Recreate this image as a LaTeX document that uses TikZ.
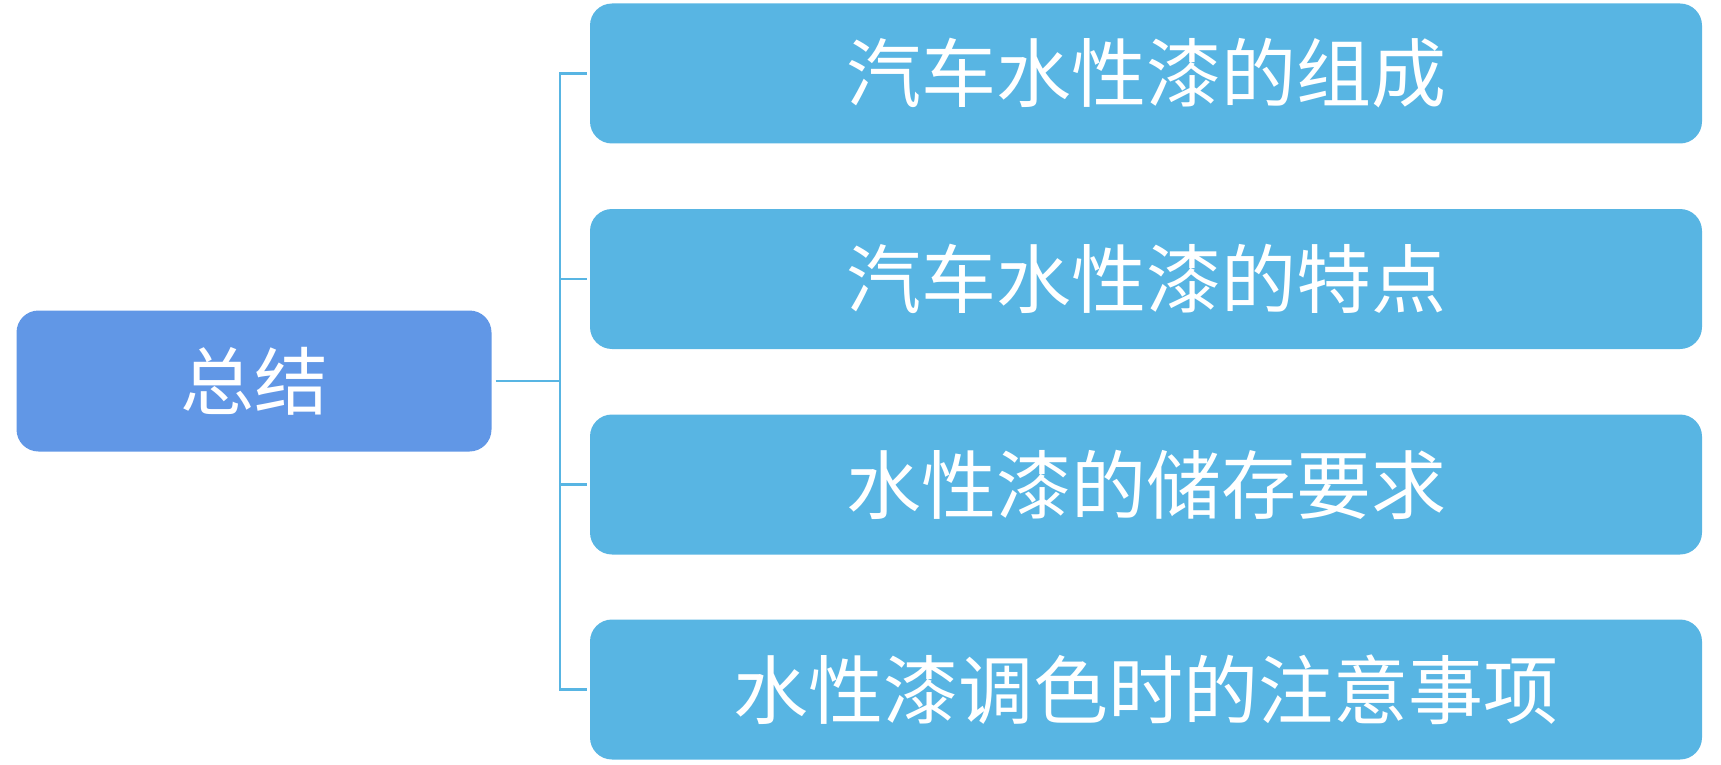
\documentclass[tikz,border=0pt]{standalone}
\usepackage{fontspec}
\usepackage{tikz}
\usetikzlibrary{positioning,calc}
\newfontfamily\cjk{Noto Sans CJK SC}
\definecolor{sumblue}{RGB}{97,151,230}
\definecolor{itemblue}{RGB}{88,181,227}

\begin{document}
\begin{tikzpicture}[x=1pt, y=-1pt,
        sumbox/.style={rectangle, rounded corners=22pt, fill=sumblue,
                    minimum width=475pt, minimum height=141pt,
                    align=center, text=white, inner sep=0pt,
                    font=\cjk\fontsize{74}{88}\selectfont},
        itembox/.style={rectangle, rounded corners=22pt, fill=itemblue,
                    minimum width=1112pt, minimum height=140pt,
                    align=center, text=white, inner sep=0pt,
                    font=\cjk\fontsize{75}{90}\selectfont},
        link/.style={draw=itemblue, line width=2.5pt}]

        \useasboundingbox (0,0) rectangle (1721,765);

        % summary node
        \node[sumbox] (sum) at (254, 381) {总结};

        % item nodes
        \node[itembox] (comp) at (1146, 73.5) {汽车水性漆的组成};
        \node[itembox] (feat) at (1146, 279) {汽车水性漆的特点};
        \node[itembox] (store) at (1146, 484.5) {水性漆的储存要求};
        \node[itembox] (tint) at (1146, 689.5) {水性漆调色时的注意事项};

        % trunk junction
        \coordinate (jn) at (560, 381);

        % summary -> trunk
        \draw[link] ([xshift=4pt]sum.east) -- (jn);

        % trunk -> items
        \draw[link] ([xshift=-3pt]comp.west) -| (jn) |- ([xshift=-3pt]tint.west);
        \draw[link] ([xshift=-3pt]feat.west) -- (feat.west -| jn);
        \draw[link] ([xshift=-3pt]store.west) -- (store.west -| jn);

    \end{tikzpicture}
\end{document}
